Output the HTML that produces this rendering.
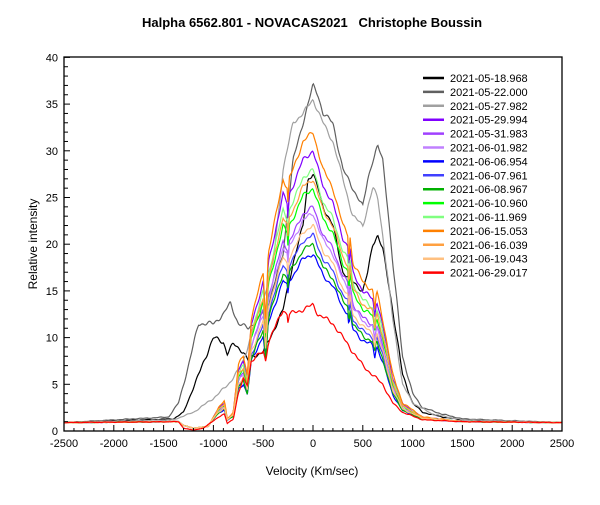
<!DOCTYPE html>
<html><head><style>
body{margin:0;background:#fff;}
svg text{font-family:"Liberation Sans",Arial,sans-serif;}
</style></head><body>
<svg id="s" width="600" height="500" xmlns="http://www.w3.org/2000/svg">
<rect width="600" height="500" fill="#fff"/>
<text x="312" y="27" text-anchor="middle" font-size="13" font-weight="bold" style="white-space:pre">Halpha 6562.801 - NOVACAS2021   Christophe Boussin</text>
<text x="312" y="475" text-anchor="middle" font-size="12">Velocity (Km/sec)</text>
<text transform="translate(37,244) rotate(-90)" text-anchor="middle" font-size="12">Relative intensity</text>
<g id="plot"></g>
<rect x="64" y="57" width="498" height="374" fill="none" stroke="#000" stroke-width="1.3"/>
<g id="ax"></g>
<g id="leg"></g>
</svg>
<script>
var NS="http://www.w3.org/2000/svg";
function X(v){return 64+(v+2500)*498/5000;}
function Y(i){return 431-i*9.34;}
function el(t,a,p){var e=document.createElementNS(NS,t);for(var k in a)e.setAttribute(k,a[k]);p.appendChild(e);return e;}
var ax=document.getElementById('ax');
for(var v=-2500;v<=2500;v+=100){var x=X(v),m=v%500==0;el('line',{x1:x,x2:x,y1:431,y2:m?425:428,stroke:'#000','stroke-width':1},ax);
 if(m){var t=el('text',{x:x,y:447,'text-anchor':'middle','font-size':11},ax);t.textContent=v;}}
for(var i=0;i<=40;i++){var y=Y(i),m=i%5==0;el('line',{x1:64,x2:m?70:68,y1:y,y2:y,stroke:'#000','stroke-width':1},ax);
 if(m){var t=el('text',{x:58,y:y+4,'text-anchor':'end','font-size':11},ax);t.textContent=i;}}
function interp(pts,v){for(var k=0;k<pts.length-1;k++){if(v>=pts[k][0]&&v<=pts[k+1][0]){var a=pts[k],b=pts[k+1];return a[1]+(b[1]-a[1])*(v-a[0])/(b[0]-a[0]);}}return pts[pts.length-1][1];}
var T=[[-2500,0.9],[-1400,1],[-1350,1],[-1300,0.6],[-1200,0.3],[-1050,0.5],[-950,2.5],[-890,3.2],[-860,1.3],[-800,2],[-750,7],[-700,8],[-660,6],[-620,12],[-500,17],[-475,12],[-450,19],[-300,27],[-260,26],[-250,24],[-240,27],[-200,28],[-100,31],[0,32],[50,30],[100,28],[200,26],[300,22],[350,21],[360,18],[370,21],[400,18],[500,16],[600,15],[620,13],[640,15],[700,12],[800,6],[900,3],[1100,1.5],[1500,1],[2500,0.9]];
var B=[[-2500,0.9],[-1400,1.3],[-1300,2],[-1150,6],[-1000,10],[-900,9.5],[-860,8.3],[-800,9.3],[-700,8.5],[-650,7.5],[-600,8],[-500,8.5],[-450,9.5],[-300,13],[-200,18],[-100,22],[-50,27],[0,27.5],[50,26],[100,24],[200,22],[300,17],[400,16],[500,15],[550,17],[600,20],[650,21],[700,19.5],[800,13],[900,6],[1000,3],[1100,2],[1300,1.5],[1500,1.2],[2500,0.9]];
var DG=[[-2500,0.9],[-1450,1.5],[-1350,3],[-1250,7],[-1150,11.5],[-1000,11.5],[-900,12.5],[-830,13.7],[-750,11.5],[-650,11],[-550,12],[-450,13.5],[-300,19],[-200,29],[-100,33],[0,37],[50,36],[100,34],[200,33],[300,28],[400,26],[500,24],[550,27],[600,29],[650,30.5],[700,29],[750,24],[800,18],[900,8],[1000,4],[1100,2.5],[1300,1.8],[1500,1.3],[2500,0.9]];
var LG=[[-2500,0.9],[-1400,1.2],[-1200,2],[-1000,3.5],[-900,4.5],[-850,5],[-750,6.5],[-700,7.5],[-600,11],[-500,14],[-400,18],[-300,28],[-200,33],[-100,34],[0,35.5],[100,33],[200,31],[300,27],[400,23],[500,22],[550,24],[600,26],[650,25],[700,21],[800,12],[900,5],[1000,3],[1200,1.8],[1500,1.2],[2500,0.9]];
var R=[[-2500,0.9],[-1350,1],[-1300,0.3],[-1200,0.1],[-1100,0.3],[-950,1.5],[-890,1.8],[-860,0.8],[-800,1.3],[-750,4],[-700,5.5],[-660,5],[-620,7.5],[-500,8.5],[-475,7.5],[-450,9.5],[-300,13],[-260,12.5],[-250,11.5],[-240,12.5],[-100,13],[0,13.5],[50,12.5],[100,12.2],[200,11.5],[300,10],[400,8.5],[500,7],[600,6],[700,5],[800,3],[900,2],[1100,1.2],[1500,1],[2500,0.9]];
function scaled(p){return function(v){var t=interp(T,v);return t<1?t:1+(t-1)*(p-1)/31;};}
var S=[
["2021-05-18.968","#000",function(v){return interp(B,v);}],
["2021-05-22.000","#606060",function(v){return interp(DG,v);}],
["2021-05-27.982","#a0a0a0",function(v){return interp(LG,v);}],
["2021-05-29.994","#8000ff",scaled(30)],
["2021-05-31.983","#a040ff",scaled(24)],
["2021-06-01.982","#c080ff",scaled(23.3)],
["2021-06-06.954","#0000ff",scaled(19)],
["2021-06-07.961","#4040ff",scaled(21)],
["2021-06-08.967","#00b000",scaled(20)],
["2021-06-10.960","#00ff00",scaled(26)],
["2021-06-11.969","#80ff80",scaled(28)],
["2021-06-15.053","#ff8000",scaled(32)],
["2021-06-16.039","#ffa040",scaled(27)],
["2021-06-19.043","#ffc080",scaled(22)],
["2021-06-29.017","#ff0000",function(v){return interp(R,v);}]
];
var plot=document.getElementById('plot'),leg=document.getElementById('leg');
S.forEach(function(s,n){
 var d='';for(var v=-2500;v<=2500;v+=8){var i=s[2](v);
  i+=(Math.sin(v*0.09+n)*0.12+Math.sin(v*0.037+n*2)*0.15)*Math.min(1,i/8);
  if(i<0)i=0;d+=(v==-2500?'M':'L')+X(v).toFixed(1)+','+Y(i).toFixed(1);}
 el('path',{d:d,fill:'none',stroke:s[1],'stroke-width':1.2},plot);
 var y=78+n*13.9;
 el('line',{x1:423,x2:444,y1:y,y2:y,stroke:s[1],'stroke-width':2.5},leg);
 var t=el('text',{x:450,y:y+4,'font-size':11},leg);t.textContent=s[0];
});
</script>
</body></html>
